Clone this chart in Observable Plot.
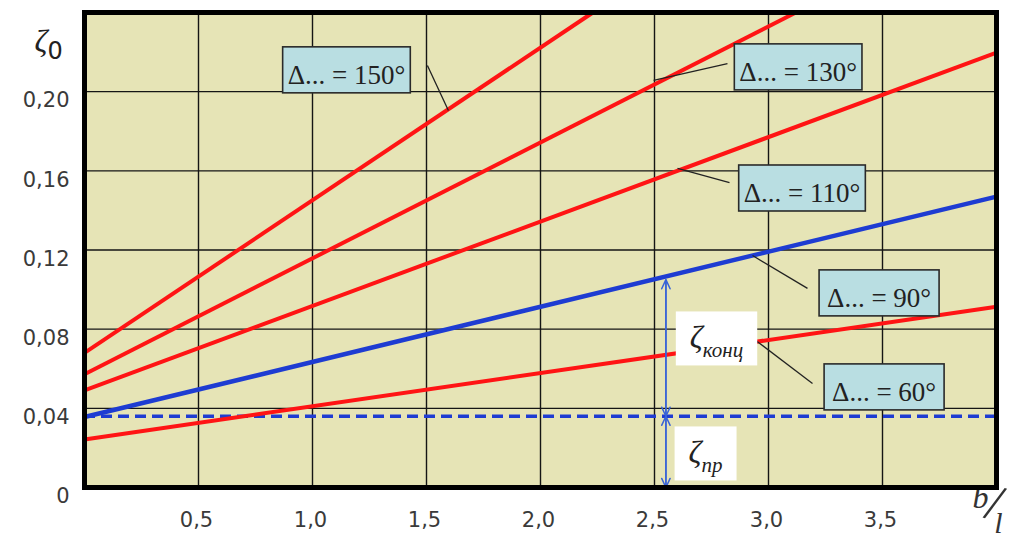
<!DOCTYPE html>
<html><head><meta charset="utf-8">
<script src="https://cdn.jsdelivr.net/npm/d3@7"></script>
<script src="https://cdn.jsdelivr.net/npm/@observablehq/plot@0.6"></script>
<style>body{margin:0;background:#fff;} svg{display:block;}</style>
</head><body><div id="chart"></div>
<script>
// ---- data ----
const angles = ["60°", "90°", "110°", "130°", "150°"];
const startX = [0, 0, 0, 0, 0];
const startY = [0.0243, 0.0356, 0.0491, 0.0572, 0.068];
const endX   = [4, 4, 4, 3.12, 2.23];
const endY   = [0.0913, 0.147, 0.2197, 0.24, 0.24];

const xTicks = [0.5, 1.0, 1.5, 2.0, 2.5, 3.0, 3.5];
const yTicks = [0, 0.04, 0.08, 0.12, 0.16, 0.20];

const prLevel = 0.036;      // ζпр level (dashed)
const arrowX = 2.55;
const kontsTop = 0.105;     // top of ζконц arrow (on the 90° line)

const calloutX = [3.507, 3.485, 3.147, 3.13, 1.149];
const calloutY = [0.0508, 0.0983, 0.1513, 0.2125, 0.211];
const leadX1 = [2.95, 2.93, 2.601, 2.496, 1.596];
const leadY1 = [0.0738, 0.1172, 0.1612, 0.2057, 0.1905];
const leadX2 = [3.193, 3.171, 2.829, 2.820, 1.504];
const leadY2 = [0.0526, 0.1006, 0.1541, 0.2142, 0.2132];

const zetaLabels = ["ζконц", "ζпр"];
const zetaX = [2.772, 2.724];
const zetaY = [0.0758, 0.0177];
const yLabel = "ζ0";

// ---- styles ----
const red = "#ff1414", blue = "#1e3cd2", arrowBlue = "#3a64d6";
const bg = "#e6e4b6", boxFill = "#b9dee2";
const serif = "Liberation Serif, Times New Roman, serif";
const sans = "DejaVu Sans, sans-serif";

const idx = angles.map((a, i) => i);
const redIdx = idx.filter(i => angles[i] !== "90°");
const blueIdx = idx.filter(i => angles[i] === "90°");
const comma = (d, n) => d === 0 ? "0" : d.toFixed(n).replace(".", ",");
const segs = [[prLevel, kontsTop], [0, prLevel]];

const chart = Plot.plot({
  width: 1011, height: 542,
  marginLeft: 84, marginRight: 15, marginTop: 12, marginBottom: 55,
  x: {domain: [0, 4], label: null},
  y: {domain: [0, 0.24], label: null},
  style: {background: "#fff", color: "#3a3a3a", fontFamily: sans},
  marks: [
    Plot.frame({fill: bg, stroke: null}),
    Plot.gridX(xTicks, {stroke: "#151515", strokeOpacity: 1, strokeWidth: 1.4}),
    Plot.gridY(yTicks.filter(d => d > 0), {stroke: "#151515", strokeOpacity: 1, strokeWidth: 1.4}),
    Plot.axisY(yTicks, {tickSize: 0, tickPadding: 15, dy: 9, fontSize: 21, tickFormat: d => comma(d, 2), label: null}),
    Plot.axisX(xTicks, {tickSize: 0, tickPadding: 25, dx: -2, fontSize: 21, tickFormat: d => comma(d, 1), label: null}),
    Plot.ruleY([prLevel], {stroke: blue, strokeWidth: 3.4, strokeDasharray: "11,6"}),
    Plot.link(redIdx, {x1: i => startX[i], y1: i => startY[i], x2: i => endX[i], y2: i => endY[i], stroke: red, strokeWidth: 4}),
    Plot.link(blueIdx, {x1: i => startX[i], y1: i => startY[i], x2: i => endX[i], y2: i => endY[i], stroke: blue, strokeWidth: 4.5}),
    Plot.arrow(segs, {x1: () => arrowX, y1: d => d[0], x2: () => arrowX, y2: d => d[1], stroke: arrowBlue, strokeWidth: 1.5, headLength: 10, headAngle: 50}),
    Plot.arrow(segs, {x1: () => arrowX, y1: d => d[1], x2: () => arrowX, y2: d => d[0], stroke: arrowBlue, strokeWidth: 1.5, headLength: 10, headAngle: 50}),
    Plot.link(idx, {x1: i => leadX1[i], y1: i => leadY1[i], x2: i => leadX2[i], y2: i => leadY2[i], stroke: "#222", strokeWidth: 1.3}),
    Plot.text(idx, {x: i => calloutX[i], y: i => calloutY[i], text: i => `Δ... = ${angles[i]}`, dy: 5,
      fontSize: 27, fontFamily: serif, fill: "#222"}),
    Plot.text(zetaLabels, {x: (d, i) => zetaX[i], y: (d, i) => zetaY[i], text: d => d,
      fontSize: 32, fontFamily: serif, fontStyle: "italic", fill: "#222"}),
    Plot.text([yLabel], {frameAnchor: "top-left", dx: -50, dy: 17, fontSize: 32, fontFamily: serif, fontStyle: "italic", fill: "#222"}),
    Plot.text(["b"], {frameAnchor: "bottom-right", dx: -8, dy: 20, fontSize: 32, fontFamily: serif, fontStyle: "italic", fill: "#333"}),
    Plot.text(["/"], {frameAnchor: "bottom-right", dx: 0, dy: 34, fontSize: 52, fontFamily: serif, rotate: 18, fill: "#333"}),
    Plot.text(["l"], {frameAnchor: "bottom-right", dx: 6, dy: 45, fontSize: 30, fontFamily: serif, fontStyle: "italic", fill: "#333"}),
    Plot.frame({stroke: "#000", strokeWidth: 5})
  ]
});
document.getElementById("chart").append(chart);

const NS = "http://www.w3.org/2000/svg";
function boxBehind(node, w, h, dyc, fill, stroke) {
  const b = node.getBBox();
  const r = document.createElementNS(NS, "rect");
  r.setAttribute("x", b.x + b.width / 2 - w / 2);
  r.setAttribute("y", b.y + b.height / 2 + dyc - h / 2);
  r.setAttribute("width", w);
  r.setAttribute("height", h);
  r.setAttribute("fill", fill);
  r.setAttribute("stroke", stroke || "none");
  r.setAttribute("stroke-width", 1.6);
  const tr = node.getAttribute("transform");
  if (tr) r.setAttribute("transform", tr);
  node.parentNode.insertBefore(r, node);
}
function splitSub(node, size, dy, upright) {
  const full = node.textContent;
  const t = d3.select(node);
  t.text(null);
  t.append("tspan").text(full[0]);
  const sp = t.append("tspan").attr("font-size", size).attr("dy", dy).text(full.slice(1));
  if (upright) sp.attr("font-style", "normal").attr("font-family", sans);
}
const texts = Array.from(chart.querySelectorAll("text"));
texts.filter(n => n.textContent.startsWith("Δ")).forEach(n => {
  const b = n.getBBox();
  boxBehind(n, Math.max(b.width + 10, 120), 46, -4.7, boxFill, "#2a2a2a");
});
texts.filter(n => zetaLabels.includes(n.textContent)).forEach(n => {
  splitSub(n, 21, "0.45em", false);
  const b = n.getBBox();
  boxBehind(n, b.width + 28, 54, -2, "#fff");
});
texts.filter(n => n.textContent === yLabel).forEach(n => splitSub(n, 24, "0.3em", true));
</script>
</body></html>
